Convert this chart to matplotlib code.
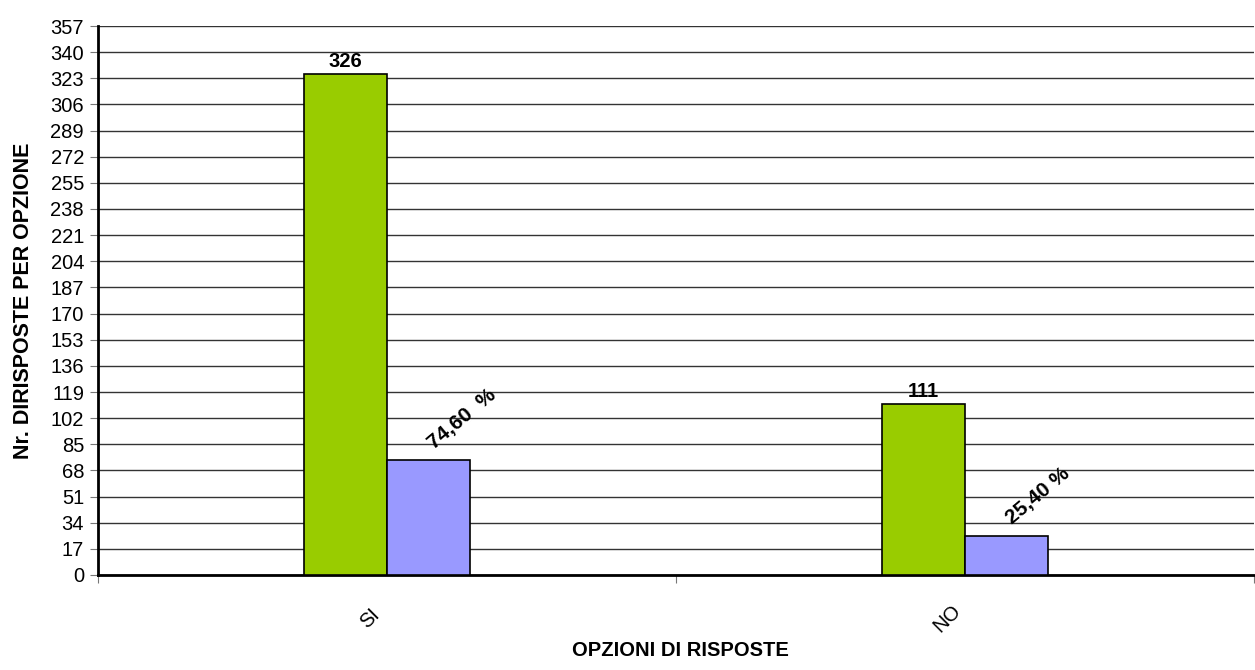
import matplotlib
matplotlib.use("Agg")
import matplotlib.pyplot as plt
import numpy as np

categories = ["SI", "NO"]
counts = [326, 111]
percents = [74.60, 25.40]
count_labels = ["326", "111"]
pct_labels = ["74,60  %", "25,40 %"]
yticks = list(range(0, 358, 17))

plt.rcParams['font.family'] = ['Liberation Sans', 'DejaVu Sans']

fig = plt.figure(figsize=(12.55, 6.7), dpi=100)
ax = fig.add_axes([98/1255, 1-575/670, 1-98/1255 - 0.0008, (575-26)/670])

x = np.arange(len(categories))
w = 0.1435
ax.bar(x - w/2, counts, width=w, color="#99CC00", edgecolor="black", linewidth=1.2, zorder=3)
ax.bar(x + w/2, percents, width=w, color="#9999FF", edgecolor="black", linewidth=1.2, zorder=3)

for xi, c, lab in zip(x, counts, count_labels):
    ax.text(xi - w/2, c + 2, lab, ha="center", va="bottom", fontsize=14.5, fontweight="bold")
for xi, p, lab in zip(x, percents, pct_labels):
    ax.text(xi + w/2 + 0.015, p + 5, lab, ha="left", va="bottom", fontsize=15,
            fontweight="bold", rotation=40, rotation_mode="anchor")

ax.set_xlim(-0.5, len(categories) - 0.5)
ax.set_ylim(0, 357)
ax.set_yticks(yticks)
ax.set_yticklabels([str(t) for t in yticks], fontsize=14.5)
ax.yaxis.grid(True, color="#333333", linewidth=1.0, zorder=0)
ax.set_axisbelow(True)

ax.set_xticks(np.arange(-0.5, len(categories), 1.0))
ax.set_xticklabels([])
ax.tick_params(axis="x", length=6, direction="out", color="#777777")
ax.tick_params(axis="y", length=6, direction="out", color="#777777", pad=4)
for xi, cat in zip(x, categories):
    ax.text(xi - 0.03, -28, cat, rotation=45, ha="center", va="center", fontsize=14.5)

for s in ["top", "right"]:
    ax.spines[s].set_visible(False)
ax.spines["left"].set_linewidth(2)
ax.spines["bottom"].set_linewidth(2)

ax.set_ylabel("Nr. DIRISPOSTE PER OPZIONE", fontsize=15.5, fontweight="bold", labelpad=12)
fig.text(680/1255, 1 - 650/670, "OPZIONI DI RISPOSTE",
         ha="center", va="center", fontsize=14.5, fontweight="bold")

fig.savefig("out.png", dpi=100)
